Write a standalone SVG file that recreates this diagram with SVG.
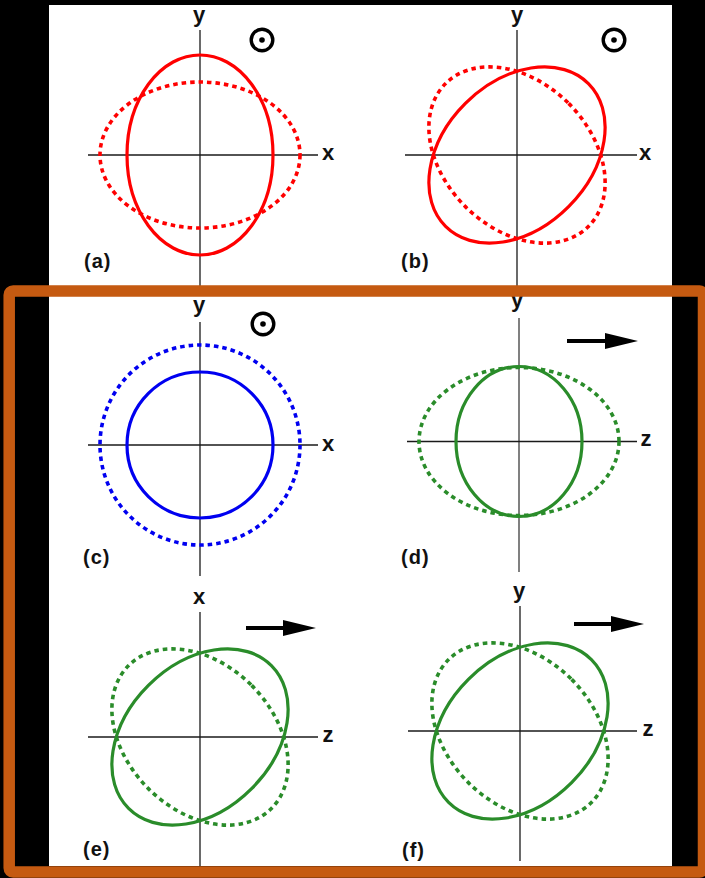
<svg xmlns="http://www.w3.org/2000/svg" width="705" height="878" viewBox="0 0 705 878">
<style>
.axis{stroke:#1a1a1a;stroke-width:1.3;fill:none}
.lbl{font-family:"Liberation Sans",Arial,sans-serif;font-weight:bold;font-size:22px;fill:#111;text-anchor:middle}
.plbl{font-family:"Liberation Sans",Arial,sans-serif;font-weight:bold;font-size:20px;fill:#111;letter-spacing:1px}
.sol{fill:none;stroke-width:3.2}
.dash{fill:none;stroke-width:3.6;stroke-dasharray:4.5 4}
.red{stroke:#ff0000}
.blue{stroke:#0000f0}
.green{stroke:#2a8c2a}
.dot{fill:#000}
.odot{fill:none;stroke:#000;stroke-width:3.4}
.arr{stroke:#000;stroke-width:4}
</style>
<rect x="0" y="0" width="705" height="878" fill="#000"/>
<rect x="49" y="5" width="623" height="861" fill="#fff"/>

<g id="panel-a">
  <line class="axis" x1="200" y1="30" x2="200" y2="286"/>
  <line class="axis" x1="88" y1="155" x2="318" y2="155"/>
  <ellipse class="dash red" cx="200" cy="155" rx="100" ry="73"/>
  <ellipse class="sol red" cx="200" cy="155" rx="73" ry="100"/>
  <text class="lbl" x="199" y="22">y</text>
  <text class="lbl" x="328" y="160">x</text>
  <circle class="odot" cx="262" cy="40" r="10.8"/>
  <circle class="dot" cx="262" cy="40" r="2.8"/>
  <text class="plbl" x="84" y="268">(a)</text>
</g>

<g id="panel-b">
  <line class="axis" x1="517" y1="30" x2="517" y2="286"/>
  <line class="axis" x1="405" y1="155" x2="637" y2="155"/>
  <ellipse class="dash red" cx="0" cy="0" rx="73" ry="101" transform="translate(517 155) rotate(-45)"/>
  <ellipse class="sol red" cx="0" cy="0" rx="73" ry="101" transform="translate(517 155) rotate(45)"/>
  <text class="lbl" x="517" y="22">y</text>
  <text class="lbl" x="645" y="160">x</text>
  <circle class="odot" cx="614" cy="40" r="10.8"/>
  <circle class="dot" cx="614" cy="40" r="2.8"/>
  <text class="plbl" x="401" y="268">(b)</text>
</g>

<g id="panel-c">
  <line class="axis" x1="200" y1="322" x2="200" y2="576"/>
  <line class="axis" x1="88" y1="445" x2="318" y2="445"/>
  <circle class="dash blue" cx="200" cy="445" r="100"/>
  <circle class="sol blue" cx="200" cy="445" r="73"/>
  <text class="lbl" x="199" y="312">y</text>
  <text class="lbl" x="328" y="451">x</text>
  <circle class="odot" cx="263" cy="324" r="10.8"/>
  <circle class="dot" cx="263" cy="324" r="2.8"/>
  <text class="plbl" x="83" y="564">(c)</text>
</g>

<g id="panel-d">
  <line x1="519" y1="318" x2="519" y2="572" stroke="#6a6a6a" stroke-width="1.7"/>
  <line class="axis" x1="407" y1="441.5" x2="637" y2="441.5"/>
  <ellipse class="dash green" cx="519" cy="441.5" rx="100" ry="74"/>
  <ellipse class="sol green" cx="519" cy="441.5" rx="63" ry="75"/>
  <text class="lbl" x="517" y="307">y</text>
  <text class="lbl" x="646" y="446">z</text>
  <line class="arr" x1="567" y1="341" x2="607" y2="341"/>
  <polygon points="605,333 638,341 605,349" fill="#000"/>
  <text class="plbl" x="401" y="564">(d)</text>
</g>

<g id="panel-e">
  <line class="axis" x1="200" y1="612" x2="200" y2="866"/>
  <line class="axis" x1="88" y1="737" x2="318" y2="737"/>
  <ellipse class="dash green" cx="0" cy="0" rx="73" ry="101" transform="translate(200 737) rotate(-45)"/>
  <ellipse class="sol green" cx="0" cy="0" rx="73" ry="101" transform="translate(200 737) rotate(45)"/>
  <text class="lbl" x="199" y="604">x</text>
  <text class="lbl" x="328" y="742">z</text>
  <line class="arr" x1="246" y1="628" x2="285" y2="628"/>
  <polygon points="283,620 316,628 283,636" fill="#000"/>
  <text class="plbl" x="83" y="856">(e)</text>
</g>

<g id="panel-f">
  <line class="axis" x1="520" y1="606" x2="520" y2="861"/>
  <line class="axis" x1="408" y1="731" x2="637" y2="731"/>
  <ellipse class="dash green" cx="0" cy="0" rx="73" ry="101" transform="translate(520 731) rotate(-45)"/>
  <ellipse class="sol green" cx="0" cy="0" rx="73" ry="101" transform="translate(520 731) rotate(45)"/>
  <text class="lbl" x="519" y="598">y</text>
  <text class="lbl" x="648" y="736">z</text>
  <line class="arr" x1="574" y1="624" x2="613" y2="624"/>
  <polygon points="611,616 644,624 611,632" fill="#000"/>
  <text class="plbl" x="402" y="857">(f)</text>
</g>

<g id="connectors"></g>

<rect x="9.2" y="291" width="694.3" height="581" rx="4" fill="none" stroke="#c55a11" stroke-width="11.5"/>
</svg>
